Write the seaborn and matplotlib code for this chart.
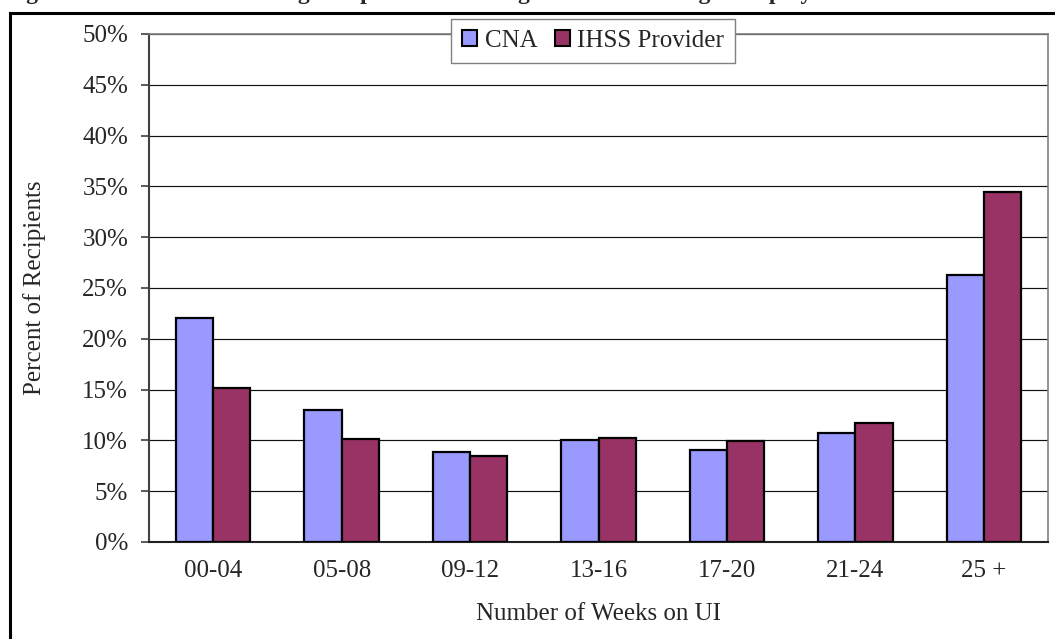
import numpy as np
import pandas as pd
import seaborn as sns
import matplotlib
matplotlib.use("Agg")
import matplotlib.pyplot as plt
from matplotlib.patches import Rectangle

# data
weeks = ['00-04', '05-08', '09-12', '13-16', '17-20', '21-24', '25 +']
cna = [22.0, 13.0, 8.9, 10.0, 9.1, 10.7, 26.3]
ihss = [15.2, 10.1, 8.5, 10.2, 9.9, 11.7, 34.4]
groups = ['CNA', 'IHSS Provider']
colors = ['#9999FF', '#993366']
title = "Figure 6: Weeks on UI Among Recipients with Longest Tenure in Single Employment"

df = pd.DataFrame({
    'weeks': weeks * 2,
    'pct': cna + ihss,
    'group': [groups[0]] * len(weeks) + [groups[1]] * len(weeks),
})

sns.set_style('white')
plt.rcParams['font.family'] = ['Liberation Serif', 'DejaVu Serif']
fs = 18

fig = plt.figure(figsize=(10.55, 6.39), dpi=100)
ax = fig.add_axes([149 / 1055, 97 / 639, 899 / 1055, 508 / 639])

sns.barplot(data=df, x='weeks', y='pct', hue='group', palette=colors,
            order=weeks, hue_order=groups, width=0.58, edgecolor='black',
            linewidth=1.6, saturation=1, ax=ax, zorder=3)

ax.set_ylim(0, 50)
ax.set_xlim(-0.5, len(weeks) - 0.5)
ax.set_yticks(np.arange(0, 51, 5))
ax.set_yticklabels([f'{v}%' for v in range(0, 51, 5)], fontsize=fs)
ax.yaxis.grid(True, color='#111111', linewidth=0.85, zorder=0)
ax.set_axisbelow(True)

ax.set_xticks(range(len(weeks)))
ax.set_xticklabels(weeks, fontsize=fs)
ax.set_xticks(np.arange(-0.5, len(weeks), 1), minor=True)
ax.tick_params(axis='x', which='major', length=0, pad=13)
ax.tick_params(axis='x', which='minor', length=6, width=1.2, color='#404040', direction='out')
ax.tick_params(axis='y', length=6, width=1.2, color='#404040', direction='out', pad=9, left=True)

ax.set_xlabel('Number of Weeks on UI', fontsize=fs, labelpad=15)
ax.set_ylabel('Percent of Recipients', fontsize=fs, labelpad=26)

for side in ['top', 'right']:
    ax.spines[side].set_color('#808080')
    ax.spines[side].set_linewidth(1.2)
ax.spines['left'].set_color('#404040')
ax.spines['left'].set_linewidth(1.5)
ax.spines['bottom'].set_color('#202020')
ax.spines['bottom'].set_linewidth(1.5)

leg = ax.legend(loc='upper center', bbox_to_anchor=(0.494, 1.03), ncol=2,
                fontsize=fs, frameon=True, fancybox=False, borderpad=0.45,
                handlelength=0.6, handleheight=0.6, handletextpad=0.3,
                columnspacing=0.7, borderaxespad=0)
leg.get_frame().set_edgecolor('#808080')
leg.get_frame().set_linewidth(1.0)
leg.get_frame().set_alpha(1)
for h in leg.legend_handles:
    h.set_edgecolor('black')
    h.set_linewidth(1.5)

# outer chart frame (right and bottom are off the page)
fig.patches.append(Rectangle((10 / 1055, -0.05), 1.1, 0.05 + 626 / 639,
                             transform=fig.transFigure, fill=False,
                             edgecolor='black', linewidth=2.2, clip_on=False))

# title clipped by the top of the page, only its descenders show
fig.text(5 / 1055, 1 + 1 / 639, title, fontsize=17, fontweight='bold',
         ha='left', va='baseline')

fig.savefig('out.png', dpi=100)
